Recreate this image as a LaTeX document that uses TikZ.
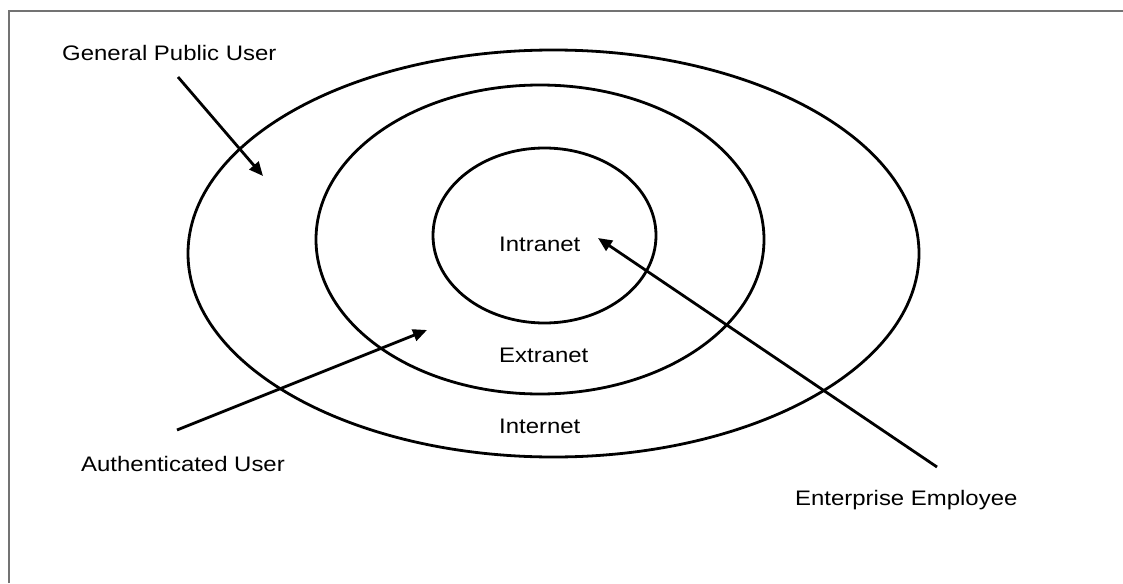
\documentclass[tikz,border=0pt]{standalone}
\usepackage{fontspec}
\setmainfont{Liberation Sans}[FakeStretch=1.14]
\usetikzlibrary{shapes.geometric,arrows.meta}

\begin{document}
\begin{tikzpicture}[x=1pt,y=-1pt,
    ring/.style={draw=black,line width=2.8pt,ellipse,inner sep=0pt,outer sep=0pt},
    lbl/.style={anchor=base west,inner sep=0pt,font=\fontsize{21}{25}\selectfont},
    pointer/.style={draw=black,line width=2.8pt,
      -{Triangle[length=14pt,width=12pt]}},
    frameline/.style={draw=black!55,line width=1.6pt}]

  % page area
  \useasboundingbox (0,0) rectangle (1123,583);
  \fill[white] (0,0) rectangle (1123,583);

  % open frame: left and top edges only
  \coordinate (fbl) at (9,583);
  \coordinate (ftl) at (9,11);
  \coordinate (ftr) at (1123,11);
  \draw[frameline] (fbl) -- (ftl) -- (ftr);

  % nested zones
  \node[ring,minimum width=731pt,minimum height=407pt] (internetzone) at (553.5,253.5) {};
  \node[ring,minimum width=448pt,minimum height=309pt] (extranetzone) at (540,239.5) {};
  \node[ring,minimum width=223pt,minimum height=175pt] (intranetzone) at (544.5,235.5) {};

  % zone names
  \node[lbl] (intranet) at (499,251) {Intranet};
  \node[lbl] (extranet) at (499,362) {Extranet};
  \node[lbl] (internet) at (499,433) {Internet};

  % user groups
  \node[lbl] (public) at (62,61) {General Public User};
  \node[lbl] (auth) at (81,471) {Authenticated User};
  \node[lbl] (employee) at (795,505) {Enterprise Employee};

  % arrow ends
  \coordinate (publicstart) at (178,77);
  \coordinate (publictip) at (263,176);
  \coordinate (authstart) at (177,430);
  \coordinate (authtip) at (427,330);
  \coordinate (employeestart) at (937,467);
  \coordinate (employeetip) at (598,238);

  \draw[pointer] (publicstart) -- (publictip);
  \draw[pointer] (authstart) -- (authtip);
  \draw[pointer] (employeestart) -- (employeetip);
\end{tikzpicture}
\end{document}
